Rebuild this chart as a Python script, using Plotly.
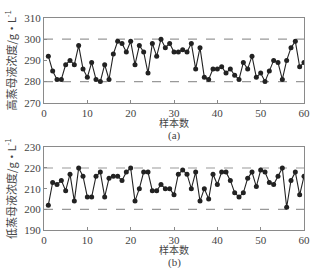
import plotly.graph_objects as go

samples = list(range(1, 61))
high_conc = [292, 285, 281, 281, 288, 290, 288, 297, 286, 282,
             289, 281, 280, 288, 281, 293, 299, 298, 294, 299,
             288, 297, 294, 284, 298, 292, 300, 296, 298, 294,
             294, 295, 294, 298, 286, 296, 282, 281, 286, 286,
             287, 284, 286, 283, 281, 289, 286, 292, 282, 284,
             280, 285, 290, 289, 281, 290, 296, 299, 287, 289]
low_conc = [202, 213, 212, 214, 209, 217, 204, 220, 216, 206,
            206, 216, 218, 206, 215, 216, 216, 214, 218, 220,
            204, 210, 218, 218, 209, 209, 212, 210, 210, 207,
            217, 219, 217, 210, 218, 204, 210, 205, 217, 212,
            218, 218, 214, 208, 206, 208, 215, 218, 211, 219,
            218, 213, 212, 216, 220, 201, 214, 218, 207, 216]
high_limits = [280, 300]
low_limits = [200, 220]
xticks = [0, 10, 20, 30, 40, 50, 60]
high_yticks = [270, 280, 290, 300, 310]
low_yticks = [190, 200, 210, 220, 230]

SERIF = "Liberation Serif, Times New Roman, serif"
CJK = "Noto Sans CJK SC"
frame = "#8a8a8a"

fig = go.Figure()
fig.add_trace(go.Scatter(x=samples, y=high_conc, mode="lines+markers",
                         line=dict(color="#222", width=1.1),
                         marker=dict(color="#222", size=5),
                         xaxis="x", yaxis="y", showlegend=False))
fig.add_trace(go.Scatter(x=samples, y=low_conc, mode="lines+markers",
                         line=dict(color="#222", width=1.1),
                         marker=dict(color="#222", size=5),
                         xaxis="x2", yaxis="y2", showlegend=False))

for v in high_limits:
    fig.add_shape(type="line", xref="x domain", yref="y", x0=0, x1=1, y0=v, y1=v,
                  line=dict(color="#999", width=1.2, dash="dash"), layer="below")
for v in low_limits:
    fig.add_shape(type="line", xref="x2 domain", yref="y2", x0=0, x1=1, y0=v, y1=v,
                  line=dict(color="#999", width=1.2, dash="dash"), layer="below")

axis_common = dict(showgrid=False, zeroline=False, showline=True, linecolor=frame,
                   linewidth=1, mirror=True, ticks="inside", ticklen=3, tickcolor=frame,
                   tickfont=dict(family=SERIF, size=11, color="#444"))

fig.update_layout(
    width=322, height=269,
    margin=dict(l=39, r=15, t=15, b=39),
    paper_bgcolor="white", plot_bgcolor="white",
    xaxis=dict(domain=[0, 1], anchor="y", range=[0, 60], tickvals=xticks,
               ticklabelstandoff=0, **axis_common),
    yaxis=dict(domain=[0.6, 1], anchor="x", range=[270, 310], tickvals=high_yticks,
               title=dict(text="高蒸母液浓度/g·L<sup>-1</sup>", standoff=5,
                          font=dict(family=CJK, size=11, color="#444")), **axis_common),
    xaxis2=dict(domain=[0, 1], anchor="y2", range=[0, 60], tickvals=xticks,
                ticklabelstandoff=0, **axis_common),
    yaxis2=dict(domain=[0, 0.39], anchor="x2", range=[190, 230], tickvals=low_yticks,
                title=dict(text="低蒸母液浓度/g·L<sup>-1</sup>", standoff=5,
                           font=dict(family=CJK, size=11, color="#444")), **axis_common),
)

ann = [
    dict(text="样本数", y=121, font=dict(family=CJK, size=10, color="#444")),
    dict(text="(a)", y=134, font=dict(family=SERIF, size=11, color="#444")),
    dict(text="样本数", y=250, font=dict(family=CJK, size=10, color="#444")),
    dict(text="(b)", y=263, font=dict(family=SERIF, size=11, color="#444")),
]
for a in ann:
    fig.add_annotation(text=a["text"], xref="x domain", yref="paper", x=0.5,
                       y=1 - (a["y"] - 15) / 215, height=11, borderpad=0,
                       showarrow=False, font=a["font"], xanchor="center", yanchor="middle")

fig.write_html("out.html")
